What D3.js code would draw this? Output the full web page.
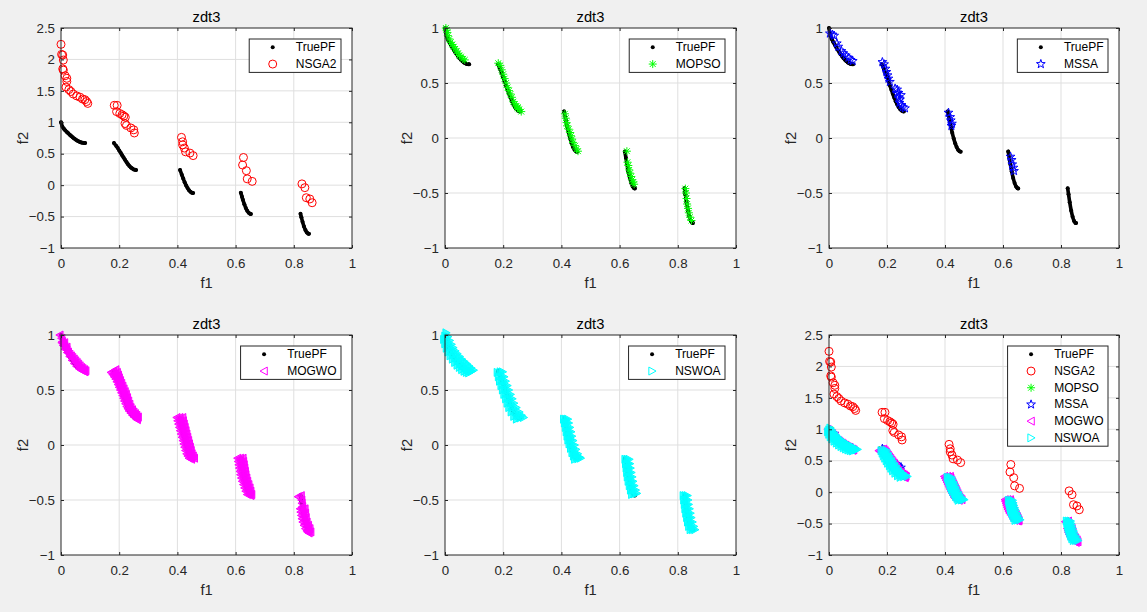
<!DOCTYPE html>
<html><head><meta charset="utf-8">
<script src="https://cdn.jsdelivr.net/npm/d3@7"></script>
<style>
body{margin:0;background:#f0f0f0;}
svg{display:block;font-family:"Liberation Sans",Arial,Helvetica,sans-serif;}
</style>
</head><body>
<svg id="chart" width="1147" height="612"></svg>
<script>
// ---------------- data ----------------
const truePF = [
  [[0,1],[0.005,0.929],[0.01,0.897],[0.015,0.871],[0.02,0.847],[0.025,0.824],[0.03,0.803],[0.035,0.782],[0.04,0.762],[0.045,0.743],[0.05,0.726],[0.055,0.711],[0.06,0.698],[0.065,0.687],[0.07,0.679],[0.075,0.673],[0.08,0.670],[0.083,0.670]],
  [[0.182,0.670],[0.19,0.623],[0.195,0.589],[0.2,0.553],[0.205,0.515],[0.21,0.477],[0.215,0.439],[0.22,0.402],[0.225,0.367],[0.23,0.334],[0.235,0.306],[0.24,0.282],[0.245,0.263],[0.25,0.250],[0.255,0.243],[0.258,0.242]],
  [[0.409,0.242],[0.415,0.167],[0.42,0.105],[0.425,0.047],[0.43,-0.004],[0.435,-0.047],[0.44,-0.082],[0.445,-0.107],[0.45,-0.121],[0.454,-0.124]],
  [[0.618,-0.122],[0.622,-0.185],[0.625,-0.233],[0.63,-0.303],[0.635,-0.363],[0.64,-0.409],[0.645,-0.440],[0.65,-0.456],[0.6525,-0.458]],
  [[0.823,-0.457],[0.826,-0.511],[0.83,-0.583],[0.835,-0.658],[0.84,-0.715],[0.845,-0.754],[0.85,-0.772],[0.852,-0.773]]
];

const nsga2 = [
  [0.0,2.24],[0.002,2.08],[0.006,2.07],[0.008,1.99],[0.006,1.85],[0.008,1.83],[0.014,1.74],[0.02,1.70],[0.02,1.65],[0.017,1.56],
  [0.027,1.52],[0.034,1.49],[0.042,1.45],[0.054,1.42],[0.065,1.40],[0.074,1.37],[0.082,1.36],[0.088,1.33],[0.092,1.30],
  [0.183,1.27],[0.193,1.27],[0.191,1.17],[0.202,1.14],[0.21,1.12],[0.216,1.10],[0.221,1.08],[0.22,0.98],[0.225,0.95],[0.24,0.91],[0.25,0.88],[0.252,0.83],
  [0.414,0.76],[0.418,0.69],[0.418,0.64],[0.424,0.59],[0.428,0.53],[0.443,0.51],[0.454,0.47],
  [0.627,0.44],[0.624,0.32],[0.637,0.23],[0.640,0.10],[0.657,0.06],
  [0.828,0.02],[0.838,-0.04],[0.843,-0.20],[0.855,-0.22],[0.863,-0.28]
];

const mopso = [
  [0.003,1.0],[0.006,0.98],[0.008,0.96],[0.01,0.93],[0.015,0.90],[0.02,0.87],[0.025,0.85],[0.03,0.83],[0.035,0.81],[0.04,0.79],[0.045,0.77],[0.05,0.75],[0.055,0.74],[0.062,0.72],[0.068,0.71],
  [0.183,0.68],[0.19,0.66],[0.195,0.62],[0.2,0.58],[0.205,0.54],[0.21,0.50],[0.215,0.46],[0.22,0.43],[0.225,0.40],[0.23,0.37],[0.235,0.33],[0.24,0.31],[0.245,0.29],[0.25,0.28],[0.255,0.26],[0.262,0.24],[0.25,0.27],
  [0.412,0.22],[0.415,0.18],[0.418,0.14],[0.42,0.11],[0.425,0.08],[0.43,0.05],[0.433,0.02],[0.437,-0.01],[0.44,-0.04],[0.447,-0.07],[0.452,-0.10],[0.457,-0.12],
  [0.625,-0.12],[0.627,-0.22],[0.63,-0.25],[0.633,-0.29],[0.636,-0.32],[0.64,-0.35],[0.643,-0.38],[0.647,-0.40],[0.65,-0.42],
  [0.826,-0.46],[0.828,-0.50],[0.83,-0.55],[0.832,-0.60],[0.835,-0.64],[0.838,-0.68],[0.842,-0.72],[0.847,-0.75]
];

const mssa = [
  [0.003,0.95],[0.012,0.94],[0.018,0.93],[0.027,0.86],[0.032,0.83],[0.043,0.79],[0.05,0.77],[0.058,0.75],[0.067,0.73],[0.075,0.71],[0.082,0.70],
  [0.184,0.69],[0.19,0.67],[0.195,0.63],[0.198,0.60],[0.202,0.57],[0.205,0.54],[0.21,0.51],[0.228,0.45],[0.235,0.44],[0.24,0.41],[0.236,0.40],[0.248,0.39],[0.24,0.37],[0.245,0.35],[0.243,0.32],[0.25,0.30],[0.255,0.28],[0.262,0.27],
  [0.412,0.23],[0.418,0.19],[0.42,0.16],[0.424,0.13],[0.422,0.11],
  [0.626,-0.17],[0.63,-0.20],[0.632,-0.24],[0.636,-0.27],[0.638,-0.30]
];

const mogwo = [
  [-0.004,1.0],[0.002,0.97],[0.005,0.94],[0.008,0.92],[0.012,0.90],[0.016,0.88],[0.02,0.865],[0.025,0.845],[0.03,0.825],[0.035,0.81],[0.04,0.795],[0.045,0.78],[0.05,0.765],[0.055,0.75],[0.06,0.735],[0.065,0.72],[0.07,0.705],[0.075,0.695],[0.08,0.685],[0.085,0.675],[0.082,0.665],[0.07,0.69],[0.012,0.93],[0.02,0.89],
  [0.003,0.93],[0.008,0.905],[0.015,0.87],[0.022,0.84],[0.03,0.805],[0.038,0.77],[0.046,0.74],[0.054,0.715],[0.062,0.695],[0.07,0.68],[0.078,0.672],
  [0.172,0.66],[0.178,0.64],[0.183,0.62],[0.188,0.60],[0.192,0.575],[0.196,0.55],[0.2,0.525],[0.204,0.50],[0.208,0.475],[0.212,0.45],[0.215,0.425],[0.218,0.40],[0.222,0.375],[0.226,0.35],[0.23,0.33],[0.234,0.31],[0.24,0.29],[0.246,0.27],[0.252,0.255],[0.258,0.24],[0.262,0.23],
  [0.18,0.67],[0.186,0.645],[0.19,0.62],[0.194,0.60],[0.198,0.575],[0.202,0.55],[0.206,0.525],[0.21,0.50],[0.214,0.475],[0.218,0.45],[0.222,0.425],[0.226,0.395],[0.23,0.365],[0.235,0.34],[0.24,0.315],[0.246,0.295],[0.252,0.275],[0.258,0.26],[0.263,0.245],
  [0.188,0.685],[0.193,0.66],[0.197,0.635],[0.2,0.61],[0.204,0.585],[0.208,0.56],[0.212,0.535],[0.216,0.51],[0.22,0.485],[0.224,0.46],[0.228,0.43],[0.232,0.40],[0.236,0.37],[0.24,0.34],[0.245,0.32],[0.25,0.30],[0.255,0.285],[0.26,0.27],[0.265,0.255],
  [0.398,0.25],[0.401,0.22],[0.404,0.19],[0.407,0.16],[0.41,0.13],[0.413,0.10],[0.416,0.07],[0.419,0.04],[0.422,0.01],[0.425,-0.02],[0.428,-0.05],[0.432,-0.08],[0.436,-0.10],[0.44,-0.12],
  [0.408,0.25],[0.41,0.22],[0.413,0.19],[0.416,0.16],[0.419,0.13],[0.422,0.10],[0.425,0.07],[0.428,0.04],[0.431,0.01],[0.434,-0.02],[0.437,-0.05],[0.441,-0.08],[0.445,-0.10],[0.449,-0.12],
  [0.418,0.25],[0.42,0.22],[0.423,0.19],[0.426,0.16],[0.429,0.13],[0.432,0.10],[0.435,0.07],[0.438,0.04],[0.441,0.01],[0.444,-0.02],[0.447,-0.05],[0.45,-0.08],[0.454,-0.10],[0.458,-0.12],[0.448,-0.13],
  [0.607,-0.12],[0.609,-0.15],[0.611,-0.18],[0.613,-0.21],[0.615,-0.24],[0.617,-0.27],[0.62,-0.30],[0.623,-0.33],[0.627,-0.36],[0.631,-0.39],[0.635,-0.42],[0.64,-0.45],
  [0.616,-0.12],[0.618,-0.15],[0.62,-0.18],[0.622,-0.21],[0.624,-0.24],[0.626,-0.27],[0.629,-0.30],[0.632,-0.33],[0.636,-0.36],[0.64,-0.39],[0.644,-0.42],[0.648,-0.45],
  [0.625,-0.12],[0.627,-0.15],[0.629,-0.18],[0.631,-0.21],[0.633,-0.24],[0.635,-0.27],[0.638,-0.30],[0.641,-0.33],[0.645,-0.36],[0.649,-0.39],[0.652,-0.42],[0.655,-0.45],[0.652,-0.46],
  [0.815,-0.47],[0.825,-0.46],[0.827,-0.50],[0.828,-0.53],[0.83,-0.56],
  [0.822,-0.58],[0.824,-0.61],[0.826,-0.64],[0.828,-0.67],[0.831,-0.70],[0.835,-0.73],[0.84,-0.76],[0.845,-0.78],
  [0.83,-0.58],[0.832,-0.615],[0.834,-0.65],[0.836,-0.685],[0.84,-0.715],[0.845,-0.745],[0.85,-0.77],[0.848,-0.79],
  [0.838,-0.58],[0.84,-0.62],[0.842,-0.66],[0.845,-0.70],[0.85,-0.73],[0.855,-0.76],[0.858,-0.79],[0.852,-0.80]
];

const nswoa = [
  [-0.004,0.96],[0.0,0.92],[0.005,0.88],[0.011,0.845],[0.018,0.81],[0.026,0.78],[0.034,0.75],[0.042,0.725],[0.05,0.705],[0.058,0.685],[0.066,0.67],[0.074,0.66],[0.082,0.655],
  [0.0,0.99],[0.005,0.955],[0.01,0.92],[0.016,0.885],[0.023,0.85],[0.03,0.82],[0.038,0.79],[0.046,0.765],[0.054,0.74],[0.062,0.72],[0.07,0.70],[0.078,0.685],[0.086,0.675],[0.092,0.67],
  [0.004,1.02],[0.01,0.985],[0.016,0.95],[0.022,0.915],[0.028,0.885],[0.035,0.855],[0.042,0.83],[0.05,0.805],[0.058,0.78],[0.066,0.76],[0.074,0.74],[0.082,0.72],[0.09,0.70],[0.098,0.68],
  [0.18,0.66],[0.184,0.62],[0.188,0.58],[0.193,0.54],[0.198,0.50],[0.203,0.46],[0.209,0.42],[0.214,0.38],[0.22,0.34],[0.228,0.30],[0.237,0.26],[0.246,0.235],
  [0.19,0.665],[0.194,0.62],[0.199,0.58],[0.204,0.54],[0.209,0.50],[0.214,0.46],[0.22,0.42],[0.226,0.38],[0.233,0.34],[0.242,0.30],[0.251,0.265],[0.258,0.245],
  [0.198,0.665],[0.203,0.62],[0.208,0.58],[0.214,0.54],[0.219,0.50],[0.225,0.46],[0.231,0.42],[0.237,0.38],[0.245,0.34],[0.255,0.30],[0.263,0.27],[0.27,0.25],
  [0.408,0.235],[0.411,0.20],[0.414,0.16],[0.417,0.12],[0.42,0.08],[0.423,0.045],[0.427,0.01],[0.432,-0.03],[0.437,-0.07],[0.442,-0.10],[0.446,-0.13],
  [0.415,0.235],[0.418,0.20],[0.421,0.16],[0.424,0.12],[0.428,0.08],[0.431,0.045],[0.435,0.005],[0.44,-0.035],[0.446,-0.075],[0.452,-0.105],[0.457,-0.125],
  [0.422,0.235],[0.425,0.20],[0.429,0.16],[0.433,0.12],[0.436,0.08],[0.44,0.04],[0.445,0.0],[0.45,-0.04],[0.456,-0.08],[0.462,-0.11],[0.466,-0.12],
  [0.619,-0.13],[0.621,-0.17],[0.623,-0.21],[0.625,-0.25],[0.627,-0.29],[0.63,-0.33],[0.634,-0.37],[0.638,-0.41],[0.642,-0.45],
  [0.626,-0.13],[0.628,-0.17],[0.63,-0.21],[0.632,-0.25],[0.635,-0.29],[0.638,-0.33],[0.642,-0.37],[0.646,-0.41],[0.65,-0.445],
  [0.633,-0.13],[0.635,-0.17],[0.637,-0.21],[0.64,-0.25],[0.643,-0.29],[0.646,-0.33],[0.65,-0.37],[0.655,-0.41],[0.659,-0.44],
  [0.819,-0.46],[0.821,-0.50],[0.823,-0.54],[0.825,-0.58],[0.828,-0.62],[0.831,-0.66],[0.834,-0.70],[0.838,-0.74],[0.843,-0.77],
  [0.826,-0.46],[0.828,-0.50],[0.83,-0.54],[0.832,-0.58],[0.835,-0.62],[0.838,-0.66],[0.842,-0.70],[0.846,-0.74],[0.851,-0.77],
  [0.833,-0.46],[0.835,-0.50],[0.837,-0.54],[0.84,-0.58],[0.843,-0.62],[0.846,-0.66],[0.85,-0.70],[0.855,-0.74],[0.859,-0.77]
];

const xTicks = [0, 0.2, 0.4, 0.6, 0.8, 1];
const yTicksWide = [-1, -0.5, 0, 0.5, 1, 1.5, 2, 2.5];
const yTicksNarrow = [-1, -0.5, 0, 0.5, 1];
const titleText = "zdt3";
const xLabelText = "f1";
const yLabelText = "f2";

// ---------------- styles ----------------
const seriesStyle = {
  TruePF: {data: null, color: "#000000", shape: "dot", dense: false},
  NSGA2: {data: nsga2, color: "#ff0000", shape: "circle", dense: false},
  MOPSO: {data: mopso, color: "#00ff00", shape: "asterisk", dense: false},
  MSSA:  {data: mssa,  color: "#0000ff", shape: "star", dense: false},
  MOGWO: {data: mogwo, color: "#ff00ff", shape: "left", dense: true},
  NSWOA: {data: nswoa, color: "#00ffff", shape: "right", dense: true}
};

const panels = [
  {series: ["NSGA2"], yTicks: yTicksWide},
  {series: ["MOPSO"], yTicks: yTicksNarrow},
  {series: ["MSSA"],  yTicks: yTicksNarrow},
  {series: ["MOGWO"], yTicks: yTicksNarrow},
  {series: ["NSWOA"], yTicks: yTicksNarrow},
  {series: ["NSGA2","MOPSO","MSSA","MOGWO","NSWOA"], yTicks: yTicksWide}
];

const colX = [[61, 352], [445, 736], [829, 1119]];
const rowY = [[28, 248], [335, 555]];
const textColor = "#262626";

function starPath(R) {
  const r = R * 0.40;
  let pts = [];
  for (let i = 0; i < 10; i++) {
    const a = -Math.PI / 2 + i * Math.PI / 5;
    const rr = i % 2 === 0 ? R : r;
    pts.push([rr * Math.cos(a), rr * Math.sin(a)]);
  }
  return "M" + pts.map(p => p[0].toFixed(2) + "," + p[1].toFixed(2)).join("L") + "Z";
}
const shapePaths = {
  circle: "M-4,0A4,4 0 1,0 4,0A4,4 0 1,0 -4,0Z",
  asterisk: "M-4,0L4,0M0,-4L0,4M-2.9,-2.9L2.9,2.9M-2.9,2.9L2.9,-2.9",
  star: starPath(4.6),
  left: "M-4,0L3.2,-4L3.2,4Z",
  right: "M4,0L-3.2,-4L-3.2,4Z"
};

const svg = d3.select("#chart");

function drawMarker(g, shape, color) {
  if (shape === "dot") {
    g.append("circle").attr("r", 2).attr("fill", color);
  } else {
    g.append("path").attr("d", shapePaths[shape])
      .attr("fill", "none").attr("stroke", color).attr("stroke-width", 1);
  }
}

panels.forEach((p, i) => {
  const [x0, x1] = colX[i % 3];
  const [y0, y1] = rowY[Math.floor(i / 3)];
  const yDom = [p.yTicks[0], p.yTicks[p.yTicks.length - 1]];
  const x = d3.scaleLinear().domain([0, 1]).range([x0, x1]);
  const y = d3.scaleLinear().domain(yDom).range([y1, y0]);
  const g = svg.append("g");

  g.append("rect").attr("x", x0).attr("y", y0).attr("width", x1 - x0).attr("height", y1 - y0)
    .attr("fill", "#ffffff");

  // grid
  g.append("g").selectAll("line").data(xTicks.slice(1, -1)).join("line")
    .attr("x1", d => x(d)).attr("x2", d => x(d)).attr("y1", y0).attr("y2", y1)
    .attr("stroke", "#dfdfdf").attr("stroke-width", 1);
  g.append("g").selectAll("line").data(p.yTicks.slice(1, -1)).join("line")
    .attr("y1", d => y(d)).attr("y2", d => y(d)).attr("x1", x0).attr("x2", x1)
    .attr("stroke", "#dfdfdf").attr("stroke-width", 1);

  // true PF
  const line = d3.line().x(d => x(d[0])).y(d => y(d[1])).curve(d3.curveCatmullRom);
  g.append("g").selectAll("path").data(truePF).join("path")
    .attr("d", line).attr("fill", "none").attr("stroke", "#000").attr("stroke-width", 3.6)
    .attr("stroke-linecap", "round");
  g.append("g").selectAll("circle").data(truePF.flat()).join("circle")
    .attr("cx", d => x(d[0])).attr("cy", d => y(d[1])).attr("r", 2).attr("fill", "#000");

  // algorithm series
  p.series.forEach(name => {
    const st = seriesStyle[name];
    g.append("g").selectAll("path").data(st.data).join("path")
      .attr("transform", d => `translate(${x(d[0])},${y(d[1])})`)
      .attr("d", shapePaths[st.shape])
      .attr("fill", st.dense ? st.color : "none")
      .attr("fill-opacity", st.dense ? 0.75 : 0)
      .attr("stroke", st.color).attr("stroke-width", 1);
  });

  // axes (ticks inward)
  const ax = d3.axisBottom(x).tickValues(xTicks).tickSize(-3).tickPadding(11)
    .tickFormat(d3.format("~g"));
  const axG = g.append("g").attr("transform", `translate(0,${y1})`).call(ax);
  const axT = g.append("g").attr("transform", `translate(0,${y0})`)
    .call(d3.axisTop(x).tickValues(xTicks).tickSize(-3).tickFormat(""));
  const ay = d3.axisLeft(y).tickValues(p.yTicks).tickSize(-3).tickPadding(6)
    .tickFormat(d3.format("~g"));
  const ayG = g.append("g").attr("transform", `translate(${x0},0)`).call(ay);
  const ayR = g.append("g").attr("transform", `translate(${x1},0)`)
    .call(d3.axisRight(y).tickValues(p.yTicks).tickSize(-3).tickFormat(""));
  [axG, axT, ayG, ayR].forEach(a => {
    a.select(".domain").remove();
    a.selectAll("line").attr("stroke", textColor);
    a.selectAll("text").attr("fill", textColor).style("font-size", "13.3px")
      .style("font-family", '"Liberation Sans",Arial,sans-serif');
  });
  g.append("rect").attr("x", x0).attr("y", y0).attr("width", x1 - x0).attr("height", y1 - y0)
    .attr("fill", "none").attr("stroke", textColor).attr("stroke-width", 1);

  // labels
  g.append("text").attr("x", (x0 + x1) / 2).attr("y", y0 - 11.5).attr("text-anchor", "middle")
    .attr("dominant-baseline", "central").attr("fill", "#000").style("font-size", "14.7px").text(titleText);
  g.append("text").attr("x", (x0 + x1) / 2).attr("y", y1 + 35).attr("text-anchor", "middle")
    .attr("dominant-baseline", "central").attr("fill", textColor).style("font-size", "14.7px").text(xLabelText);
  g.append("text").attr("transform", `translate(${x0 - 38},${(y0 + y1) / 2}) rotate(-90)`)
    .attr("text-anchor", "middle").attr("dominant-baseline", "central")
    .attr("fill", textColor).style("font-size", "14.7px").text(yLabelText);

  // legend
  const names = ["TruePF"].concat(p.series);
  const lg = g.append("g");
  const rowH = 16.7;
  const box = lg.append("rect").attr("fill", "#fff").attr("stroke", textColor).attr("stroke-width", 1);
  let maxW = 0;
  const items = names.map((n, k) => {
    const t = lg.append("text").attr("x", 0).attr("y", rowH * (k + 0.5)).attr("dominant-baseline", "central")
      .attr("fill", "#000").style("font-size", "12px").text(n);
    maxW = Math.max(maxW, t.node().getComputedTextLength());
    return t;
  });
  const lw = 46.6 + maxW + 4.5;
  const lx = x1 - 11 - lw, ly = y0 + 11;
  lg.attr("transform", `translate(${lx},${ly})`);
  box.attr("x", 0).attr("y", 0).attr("width", lw).attr("height", rowH * names.length);
  items.forEach(t => t.attr("x", 46.6));
  names.forEach((n, k) => {
    const mg = lg.append("g").attr("transform", `translate(23.5,${rowH * (k + 0.5)})`);
    drawMarker(mg, seriesStyle[n].shape, seriesStyle[n].color);
  });
});
</script>
</body></html>
